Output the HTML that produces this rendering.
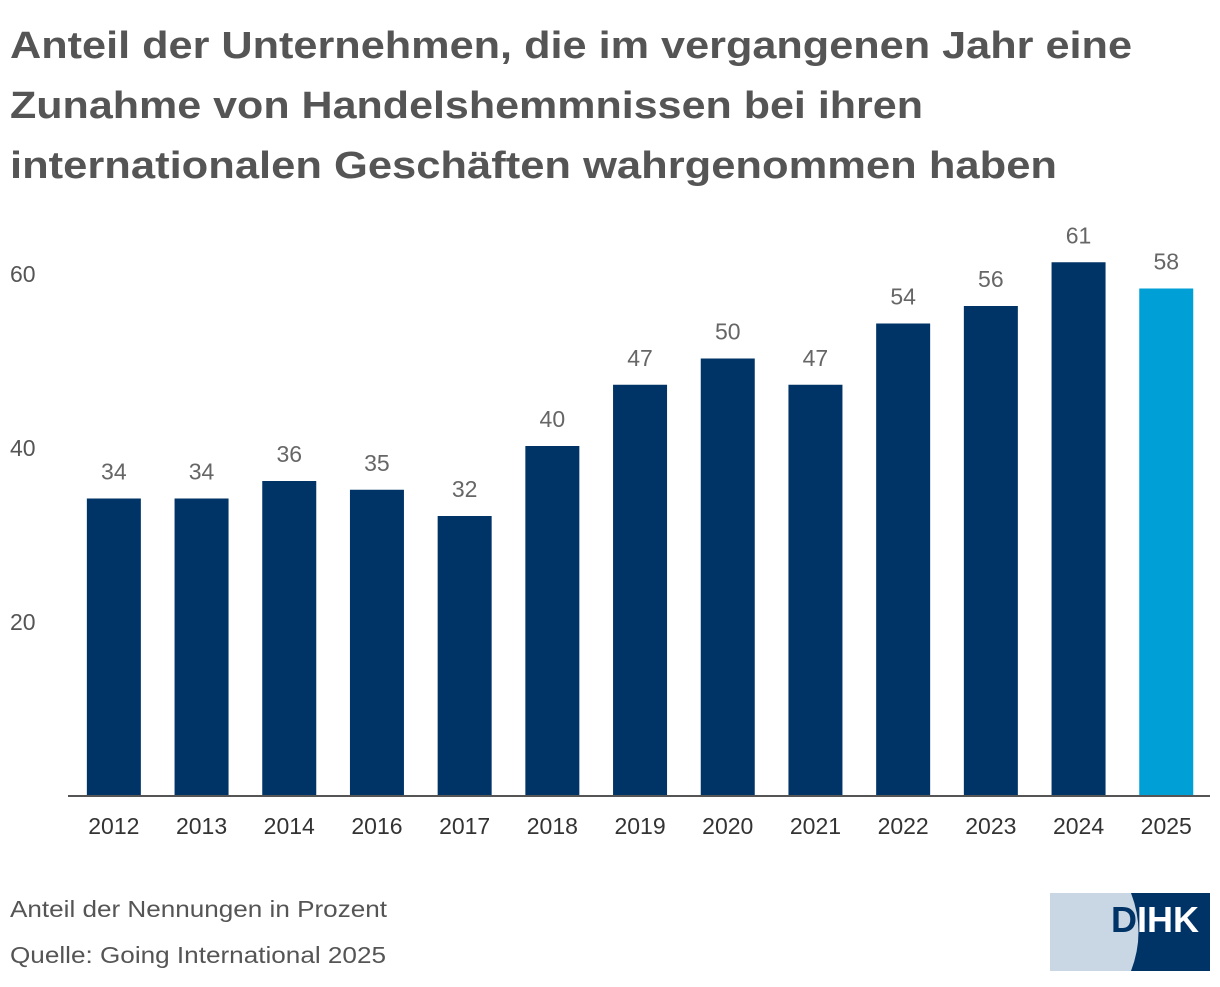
<!DOCTYPE html>
<html><head><meta charset="utf-8"><style>
body{margin:0;background:#fff;font-family:"Liberation Sans",sans-serif;}
svg text{font-family:"Liberation Sans",sans-serif;}
</style></head><body>
<svg width="1220" height="982">
<g fill="#555" font-size="38" font-weight="bold">
<text x="10" y="58" textLength="1122" lengthAdjust="spacingAndGlyphs">Anteil der Unternehmen, die im vergangenen Jahr eine</text>
<text x="10" y="118" textLength="913" lengthAdjust="spacingAndGlyphs">Zunahme von Handelshemmnissen bei ihren</text>
<text x="10" y="178" textLength="1047" lengthAdjust="spacingAndGlyphs">internationalen Geschäften wahrgenommen haben</text>
</g>
<g id="yaxis"></g>
<g id="bars"></g>
<line x1="68" x2="1210" y1="796" y2="796" stroke="#555" stroke-width="2"/>
<g id="xaxis"></g>
<text x="10" y="917" font-size="23" fill="#555" textLength="377" lengthAdjust="spacingAndGlyphs">Anteil der Nennungen in Prozent</text>
<text x="10" y="963" font-size="23" fill="#555" textLength="376" lengthAdjust="spacingAndGlyphs">Quelle: Going International 2025</text>
<g>
<defs><clipPath id="lc"><rect x="1050" y="893" width="160" height="78"/></clipPath></defs>
<g clip-path="url(#lc)">
<rect x="1050" y="893" width="160" height="78" fill="#c9d6e4"/>
<path d="M1131 893 Q1146 932 1131 971 L1210 971 L1210 893 Z" fill="#003366"/>
</g>
<text x="1111" y="932" font-size="36" font-weight="bold" fill="#003366">D</text>
<text x="1137" y="932" font-size="36" font-weight="bold" fill="#fff">IHK</text>
</g>
</svg>
<script>
const categories=["2012","2013","2014","2016","2017","2018","2019","2020","2021","2022","2023","2024","2025"];
const values=[34,34,36,35,32,40,47,50,47,54,56,61,58];
const yTicks=[20,40,60];
const NS="http://www.w3.org/2000/svg";
const x0=70,step=87.7,bw=54,base=796,k=8.75;
const y=v=>base-v*k;
const xc=i=>x0+step*(i+0.5);
function mk(t,a,txt){const e=document.createElementNS(NS,t);for(const n in a)e.setAttribute(n,a[n]);if(txt!=null)e.textContent=txt;return e;}
const bars=document.getElementById('bars'),xa=document.getElementById('xaxis'),ya=document.getElementById('yaxis');
yTicks.forEach(t=>{const e=mk('text',{x:10,y:base-t*8.7+8,'font-size':23,fill:'#555'},t);


ya.appendChild(e);});
values.forEach((v,i)=>{
const last=i===values.length-1;
const r=mk('rect',{x:xc(i)-bw/2,y:y(v),width:bw,height:v*k,fill:last?'#009fd6':'#003366'});


bars.appendChild(r);
const l=mk('text',{x:xc(i),y:y(v)-19,'font-size':23,fill:'#666','text-anchor':'middle'},v);


bars.appendChild(l);
const c=mk('text',{x:xc(i),y:834,'font-size':23,fill:'#333','text-anchor':'middle'},categories[i]);


xa.appendChild(c);
});
</script>
</body></html>
